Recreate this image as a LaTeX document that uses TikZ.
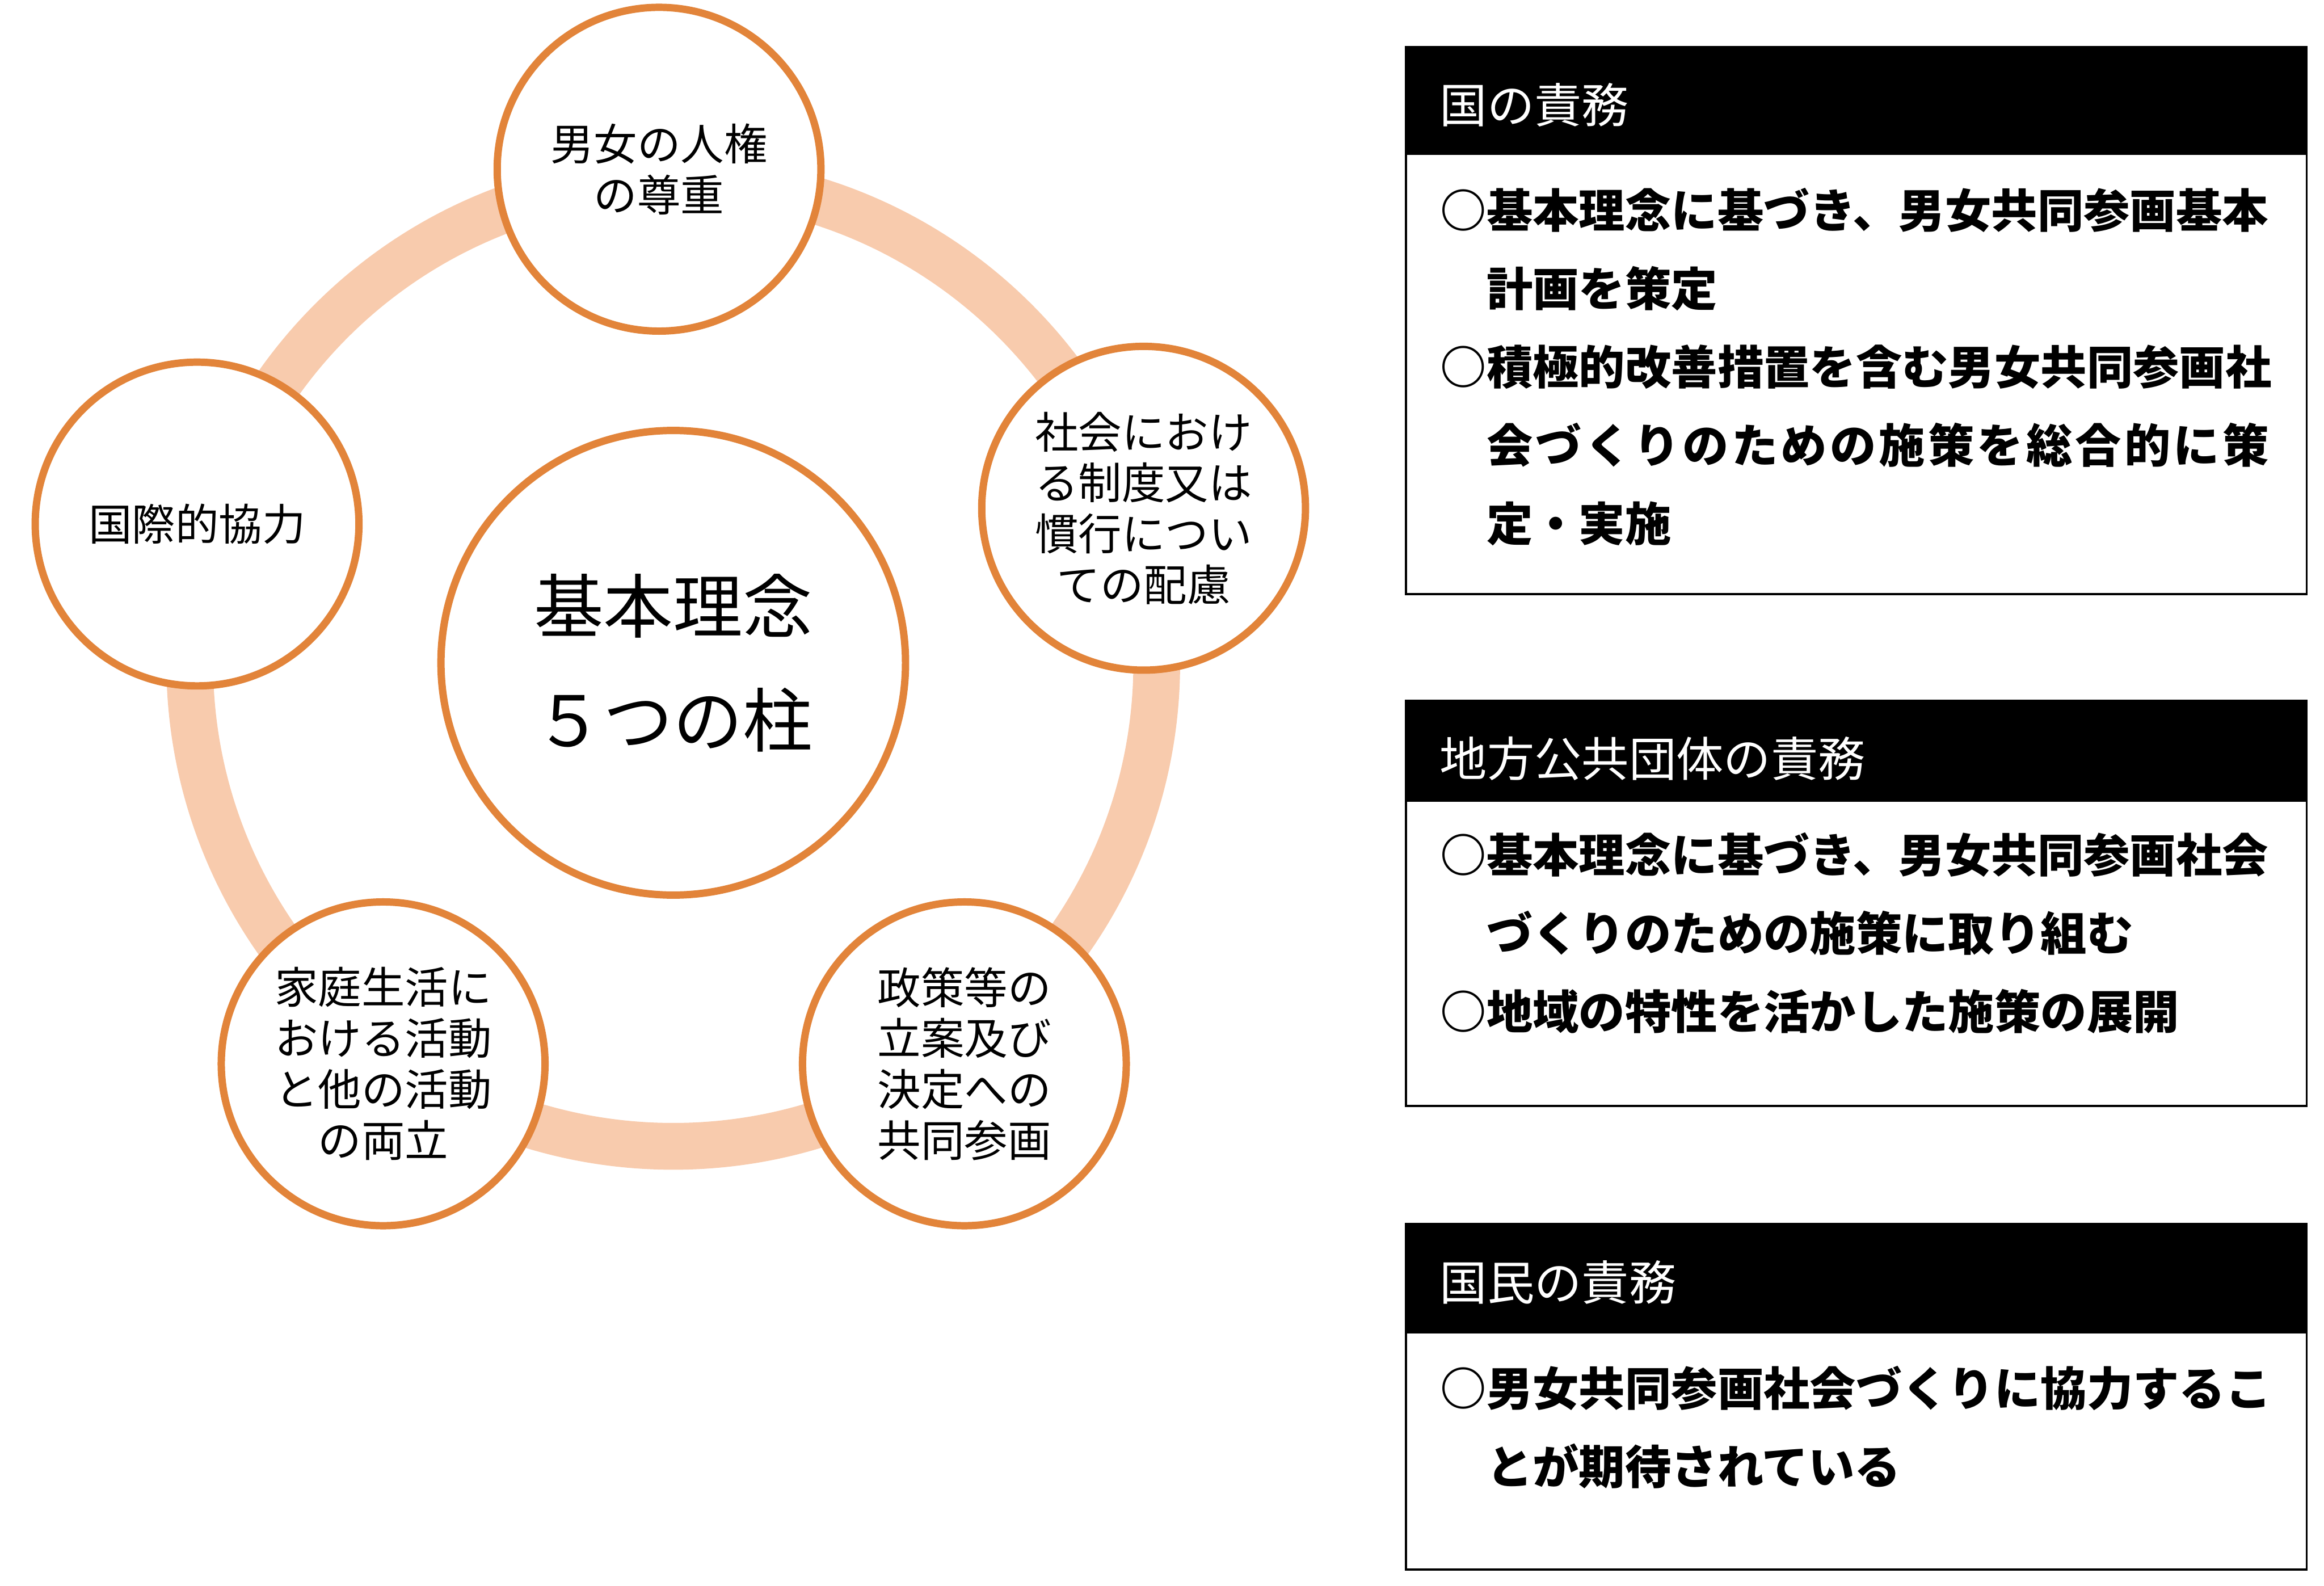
\documentclass[tikz,border=0pt]{standalone}
\usepackage{fontspec}
\setmainfont{Noto Sans CJK JP}
\usepackage{tikz}
\definecolor{pillarorange}{HTML}{E2843A}
\definecolor{ringpeach}{HTML}{F8CBAD}
\tikzset{
  ring/.style={draw=ringpeach, line width=8.9mm},
  pillar/.style={circle, draw=pillarorange, line width=1.4mm, fill=white, minimum size=61.6mm, inner sep=0pt, align=center, font=\fontsize{23.5}{27.6}\selectfont},
  core/.style={circle, draw=pillarorange, line width=1.4mm, fill=white, minimum size=88.4mm, inner sep=0pt, align=center, font=\fontsize{37.7}{61.7}\selectfont},
  frame/.style={draw=black, line width=0.4mm},
  dutyhead/.style={anchor=west, inner sep=0pt, text=white, font=\fontsize{25.6}{30}\selectfont},
  dutytext/.style={anchor=north west, inner sep=0pt, align=left, font=\bfseries\fontsize{25}{42.4}\selectfont}
}

\begin{document}
\begin{tikzpicture}
  \useasboundingbox (0,0) rectangle (44.22,30.17);

  % five pillars round the basic principle
  \coordinate (hub) at (12.81,17.56);
  \draw[ring] (hub) circle (9.2);
  \node[core] (rinen) at (hub) {基本理念\\５つの柱};
  \node[pillar] (jinken) at (12.54,26.95) {男女の人権\\の尊重};
  \node[pillar] (seido) at (21.76,20.50) {社会におけ\\る制度又は\\慣行につい\\ての配慮};
  \node[pillar] (kokusai) at (3.75,20.20) {国際的協力};
  \node[pillar] (katei) at (7.29,9.93) {家庭生活に\\おける活動\\と他の活動\\の両立};
  \node[pillar] (seisaku) at (18.35,9.93) {政策等の\\立案及び\\決定への\\共同参画};

  % duties
  \fill (26.75,27.22) rectangle (43.89,29.27);
  \draw[frame] (26.75,18.87) rectangle (43.89,29.27);
  \node[dutyhead] (kunihead) at (27.39,28.17) {国の責務};
  \node[dutytext] (kunitext) at (27.40,26.60) {○基本理念に基づき、男女共同参画基本\\　計画を策定\\○積極的改善措置を含む男女共同参画社\\　{\addfontfeature{LetterSpace=6.25}会づくりのための施策を総合的に策}\\　定・実施};

  \fill (26.75,14.91) rectangle (43.89,16.84);
  \draw[frame] (26.75,9.13) rectangle (43.89,16.84);
  \node[dutyhead] (chihohead) at (27.39,15.74) {地方公共団体の責務};
  \node[dutytext] (chihotext) at (27.40,14.34) {○基本理念に基づき、男女共同参画社会\\　づくりのための施策に取り組む\\○地域の特性を活かした施策の展開};

  \fill (26.75,4.80) rectangle (43.89,6.89);
  \draw[frame] (26.75,0.31) rectangle (43.89,6.89);
  \node[dutyhead] (kokuminhead) at (27.39,5.77) {国民の責務};
  \node[dutytext] (kokumintext) at (27.40,4.19) {○男女共同参画社会づくりに協力するこ\\　とが期待されている};
\end{tikzpicture}
\end{document}
